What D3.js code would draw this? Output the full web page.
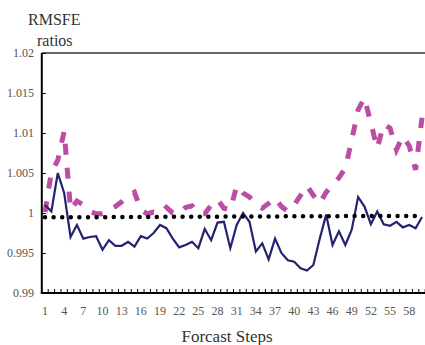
<!DOCTYPE html>
<html>
<head>
<meta charset="utf-8">
<script src="https://cdn.jsdelivr.net/npm/d3@7"></script>
<style>
  body { margin: 0; background: #fff; }
  svg text { font-family: "Liberation Serif", "DejaVu Serif", serif; }
</style>
</head>
<body>
<div id="chart"></div>
<script>
// forecast steps 1..60
const steps = d3.range(1, 61);
const xTickLabels = [1, 4, 7, 10, 13, 16, 19, 22, 25, 28, 31, 34, 37, 40, 43, 46, 49, 52, 55, 58];
const yTicks = [0.99, 0.995, 1, 1.005, 1.01, 1.015, 1.02];
const yTickLabels = ["0.99", "0.995", "1", "1.005", "1.01", "1.015", "1.02"];

// solid navy series
const navySeries = [
  1.0010, 1.0002, 1.0050, 1.0025, 0.9970, 0.9985, 0.9968, 0.9970, 0.9971, 0.9954,
  0.9966, 0.9959, 0.9959, 0.9964, 0.9958, 0.9971, 0.9968, 0.9975, 0.9985, 0.9981,
  0.9968, 0.9957, 0.9960, 0.9964, 0.9956, 0.9980, 0.9966, 0.9988, 0.9989, 0.9956,
  0.9985, 1.0000, 0.9989, 0.9952, 0.9962, 0.9942, 0.9968, 0.9950, 0.9941, 0.9939,
  0.9931, 0.9928, 0.9935, 0.9968, 0.9998, 0.9960, 0.9977, 0.9960, 0.9979, 1.0020,
  1.0008, 0.9986, 1.0002, 0.9986, 0.9984, 0.9989, 0.9982, 0.9985, 0.9981, 0.9995
];

// dashed magenta series
const magentaSeries = [
  1.0001, 1.0051, 1.0066, 1.0102, 1.0004, 1.0015, 1.0010, 1.0002, 0.9999, 0.9999,
  1.0004, 1.0008, 1.0014, 1.0022, 1.0026, 1.0004, 0.9999, 1.0001, 0.9999, 1.0007,
  1.0000, 0.9999, 1.0007, 1.0009, 0.9999, 0.9999, 1.0010, 1.0017, 1.0006, 1.0004,
  1.0034, 1.0025, 1.0020, 1.0012, 1.0006, 1.0012, 1.0019, 1.0008, 1.0002, 1.0010,
  1.0022, 1.0034, 1.0022, 1.0012, 1.0026, 1.0035, 1.0044, 1.0056, 1.0091, 1.0129,
  1.0144, 1.0112, 1.0081, 1.0111, 1.0106, 1.0079, 1.0096, 1.0084, 1.0054, 1.0119
];

// dotted black series
const dottedSeries = [
  0.99946, 0.99946, 0.99946, 0.99946, 0.99947, 0.99947, 0.99947, 0.99948, 0.99948, 0.99948,
  0.99949, 0.99949, 0.99949, 0.99950, 0.99950, 0.99950, 0.99951, 0.99951, 0.99951, 0.99952,
  0.99952, 0.99952, 0.99953, 0.99953, 0.99953, 0.99954, 0.99954, 0.99954, 0.99955, 0.99955,
  0.99955, 0.99956, 0.99956, 0.99956, 0.99957, 0.99957, 0.99957, 0.99958, 0.99958, 0.99958,
  0.99959, 0.99959, 0.99959, 0.99960, 0.99960, 0.99960, 0.99960, 0.99961, 0.99961, 0.99961,
  0.99961, 0.99961, 0.99962, 0.99962, 0.99962, 0.99962, 0.99962, 0.99962, 0.99962, 0.99962
];

const W = 425, H = 345;
const plot = { left: 41.8, right: 425.2, top: 53, bottom: 293 };

const svg = d3.select("#chart").append("svg")
  .attr("width", W)
  .attr("height", H);

const x = d3.scaleBand()
  .domain(steps)
  .range([plot.left, plot.right]);

const y = d3.scaleLinear()
  .domain([0.99, 1.02])
  .range([plot.bottom, plot.top]);

const cx = d => x(d) + x.bandwidth() / 2;

// top frame line
svg.append("line")
  .attr("x1", plot.left).attr("x2", W)
  .attr("y1", plot.top).attr("y2", plot.top)
  .attr("stroke", "#333").attr("stroke-width", 1.5);

// series
const line = d3.line()
  .x((d, i) => cx(steps[i]))
  .y(d => y(d));

svg.append("path")
  .datum(magentaSeries)
  .attr("d", line)
  .attr("fill", "none")
  .attr("stroke", "#bb4da4")
  .attr("stroke-width", 5)
  .attr("stroke-dasharray", "11,13");

svg.append("path")
  .datum(navySeries)
  .attr("d", line)
  .attr("fill", "none")
  .attr("stroke", "#232370")
  .attr("stroke-width", 2.2)
  .attr("stroke-linejoin", "miter");

svg.append("path")
  .datum(dottedSeries)
  .attr("d", line)
  .attr("fill", "none")
  .attr("stroke", "#000")
  .attr("stroke-width", 4.5)
  .attr("stroke-linecap", "round")
  .attr("stroke-dasharray", "0,8.6");

// y axis: ticks inward
const yAxis = svg.append("g")
  .attr("transform", `translate(${plot.left},0)`)
  .call(d3.axisRight(y).tickValues(yTicks).tickSize(4).tickFormat(""));
yAxis.select(".domain").attr("stroke", "#000").attr("stroke-width", 2)
  .attr("d", `M0,${plot.top}V${plot.bottom}`);

svg.append("g")
  .selectAll("text")
  .data(yTicks)
  .enter()
  .append("text")
  .attr("x", 34)
  .attr("y", d => y(d) + 4)
  .attr("text-anchor", "end")
  .style("font-size", "12px")
  .attr("fill", "#555")
  .text((d, i) => yTickLabels[i]);

// x axis: tick marks at category boundaries, inward
const boundaries = steps.map(s => x(s)).concat([plot.right]);
svg.append("g")
  .selectAll("line")
  .data(boundaries)
  .enter()
  .append("line")
  .attr("x1", d => d).attr("x2", d => d)
  .attr("y1", plot.bottom).attr("y2", plot.bottom - 4)
  .attr("stroke", "#000").attr("stroke-width", 1);

svg.append("line")
  .attr("x1", plot.left - 1).attr("x2", W)
  .attr("y1", plot.bottom).attr("y2", plot.bottom)
  .attr("stroke", "#000").attr("stroke-width", 2);

svg.append("g")
  .selectAll("text")
  .data(xTickLabels)
  .enter()
  .append("text")
  .attr("x", d => cx(d))
  .attr("y", 315)
  .attr("text-anchor", "middle")
  .style("font-size", "12px")
  .attr("fill", "#555")
  .text(d => d);

// titles
svg.append("text")
  .attr("x", 28).attr("y", 25)
  .style("font-size", "16px")
  .attr("fill", "#333")
  .text("RMSFE");

svg.append("text")
  .attr("x", 37).attr("y", 46)
  .style("font-size", "16px")
  .attr("fill", "#333")
  .text("ratios");

svg.append("text")
  .attr("x", 227).attr("y", 342)
  .attr("text-anchor", "middle")
  .style("font-size", "17px")
  .attr("fill", "#333")
  .text("Forcast Steps");
</script>
</body>
</html>
